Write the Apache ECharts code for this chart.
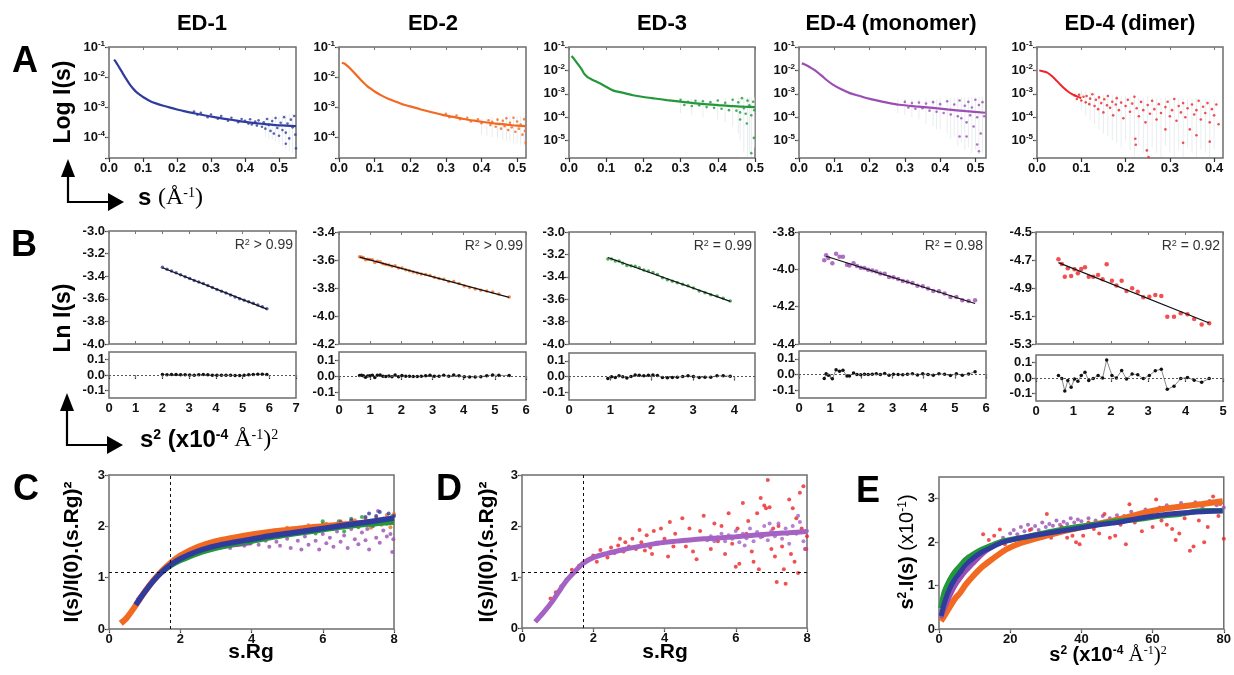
<!DOCTYPE html>
<html><head><meta charset="utf-8">
<script src="https://cdn.jsdelivr.net/npm/echarts@6/dist/echarts.min.js"></script>
<style>html,body{margin:0;padding:0;background:#fff}#c{width:1234px;height:675px}</style>
</head><body><div id="c"></div><script>
// ---------- DATA ----------
const titles = ['ED-1','ED-2','ED-3','ED-4 (monomer)','ED-4 (dimer)'];
const colBlue='#2f3c9e', colOrange='#f26a22', colGreen='#22983a', colPurple='#9b4db3', colPurpleD='#a362c4', colRed='#ee2428';

// Panel A: log I(s) vs s  ([s, I])
const aCurve1=[[0.015,3.8e-2],[0.02,3.2e-2],[0.03,2.1e-2],[0.04,1.35e-2],[0.05,8.8e-3],[0.06,5.9e-3],[0.07,4.2e-3],[0.08,3.2e-3],[0.09,2.6e-3],[0.10,2.15e-3],[0.12,1.6e-3],[0.14,1.3e-3],[0.16,1.1e-3],[0.18,9.5e-4],[0.20,8.3e-4],[0.22,7.3e-4],[0.25,6.2e-4],[0.28,5.3e-4],[0.31,4.6e-4],[0.34,4.0e-4],[0.37,3.6e-4],[0.40,3.2e-4],[0.43,2.9e-4],[0.46,2.7e-4],[0.49,2.5e-4],[0.52,2.4e-4],[0.55,2.3e-4]];
const aTail1=[[0.25,7.0e-4],[0.26,5.5e-4],[0.27,6.4e-4],[0.29,4.6e-4],[0.30,5.6e-4],[0.32,4.1e-4],[0.33,5.0e-4],[0.35,3.5e-4],[0.36,4.4e-4],[0.38,3.1e-4],[0.39,4.0e-4],[0.40,3.5e-4],[0.41,2.8e-4],[0.415,3.9e-4],[0.42,2.6e-4],[0.43,3.3e-4],[0.435,2.4e-4],[0.44,3.6e-4],[0.45,2.2e-4],[0.455,3.1e-4],[0.46,1.9e-4],[0.465,4.0e-4],[0.47,2.5e-4],[0.475,1.6e-4],[0.48,3.4e-4],[0.485,1.3e-4],[0.49,4.3e-4],[0.495,2.0e-4],[0.50,1.1e-4],[0.505,3.0e-4],[0.51,1.7e-4],[0.515,4.6e-4],[0.52,1.4e-4],[0.525,2.8e-4],[0.53,9e-5],[0.535,3.8e-4],[0.54,2.1e-4],[0.545,5e-4],[0.548,1.2e-4],[0.55,4.2e-5],[0.52,6e-5]];
const aErr1=[[0.46,1e-4,4.5e-4],[0.47,9e-5,4.8e-4],[0.48,8e-5,5e-4],[0.49,7e-5,5e-4],[0.50,6e-5,5e-4],[0.51,5e-5,5.5e-4],[0.52,4e-5,5.5e-4],[0.53,3.5e-5,6e-4],[0.54,3e-5,6e-4]];
const aCurve2=[[0.008,3.0e-2],[0.015,2.8e-2],[0.02,2.55e-2],[0.03,2.0e-2],[0.04,1.5e-2],[0.05,1.12e-2],[0.06,8.3e-3],[0.07,6.3e-3],[0.08,4.9e-3],[0.09,4.0e-3],[0.10,3.3e-3],[0.12,2.4e-3],[0.14,1.85e-3],[0.16,1.5e-3],[0.18,1.22e-3],[0.20,1.05e-3],[0.23,8.3e-4],[0.26,6.7e-4],[0.29,5.5e-4],[0.32,4.7e-4],[0.35,4.0e-4],[0.38,3.5e-4],[0.41,3.1e-4],[0.44,2.8e-4],[0.47,2.6e-4],[0.50,2.4e-4],[0.525,2.3e-4]];
const aTail2=[[0.30,5.9e-4],[0.31,4.6e-4],[0.33,5.2e-4],[0.34,3.9e-4],[0.36,4.4e-4],[0.37,3.3e-4],[0.39,3.9e-4],[0.40,2.9e-4],[0.42,3.6e-4],[0.425,2.5e-4],[0.43,3.2e-4],[0.44,2.2e-4],[0.445,3.8e-4],[0.45,2.7e-4],[0.455,1.9e-4],[0.46,3.5e-4],[0.465,2.3e-4],[0.47,4.2e-4],[0.475,1.7e-4],[0.48,3.0e-4],[0.485,2.1e-4],[0.49,4.4e-4],[0.495,1.5e-4],[0.50,3.3e-4],[0.505,1.9e-4],[0.51,2.6e-4],[0.515,1.2e-4],[0.52,3.9e-4],[0.522,1.6e-4],[0.524,6.5e-5]];
const aErr2=[[0.40,1.2e-4,4e-4],[0.415,1.1e-4,4.2e-4],[0.43,1e-4,4.5e-4],[0.445,9e-5,4.5e-4],[0.46,8e-5,4.5e-4],[0.47,7.5e-5,5e-4],[0.48,7e-5,5e-4],[0.49,6.5e-5,5e-4],[0.50,6e-5,5e-4],[0.51,5.5e-5,5e-4],[0.52,5e-5,5e-4]];
const aCurve3=[[0.007,4.1e-2],[0.015,2.9e-2],[0.025,1.75e-2],[0.035,1.05e-2],[0.04,7.5e-3],[0.05,5.2e-3],[0.06,4.2e-3],[0.07,3.5e-3],[0.083,2.8e-3],[0.10,2.0e-3],[0.118,1.4e-3],[0.14,1.15e-3],[0.172,8.7e-4],[0.20,7.3e-4],[0.23,6.3e-4],[0.263,5.4e-4],[0.30,4.6e-4],[0.35,3.8e-4],[0.40,3.3e-4],[0.44,2.95e-4],[0.47,2.8e-4],[0.50,2.7e-4]];
const aTail3=[[0.30,5.5e-4],[0.31,3.3e-4],[0.32,4.6e-4],[0.33,3.0e-4],[0.34,5.0e-4],[0.35,3.2e-4],[0.36,4.8e-4],[0.37,2.7e-4],[0.38,4.4e-4],[0.39,2.5e-4],[0.40,5.2e-4],[0.41,2.3e-4],[0.42,4.1e-4],[0.43,2.0e-4],[0.44,5.6e-4],[0.45,1.9e-4],[0.455,4.3e-4],[0.46,1.6e-4],[0.465,6.5e-4],[0.47,2.4e-4],[0.475,1.4e-4],[0.48,5.1e-4],[0.485,3.2e-4],[0.49,1.2e-4],[0.495,4.6e-4],[0.498,2.0e-4],[0.478,5.4e-5],[0.46,8e-5],[0.497,1.3e-5],[0.49,2.9e-6]];
const aErr3=[[0.30,1.5e-4,6e-4],[0.33,1.2e-4,6e-4],[0.36,1e-4,6e-4],[0.40,8e-5,6e-4],[0.42,6e-5,6.5e-4],[0.44,4e-5,6.5e-4],[0.455,2e-5,7e-4],[0.46,1e-5,7e-4],[0.47,3e-6,7e-4],[0.48,2e-6,7e-4],[0.485,3e-6,7e-4],[0.49,2e-6,7e-4],[0.50,5e-6,7e-4]];
const aCurve4=[[0.008,2.0e-2],[0.015,1.85e-2],[0.025,1.55e-2],[0.035,1.25e-2],[0.05,8.9e-3],[0.065,5.8e-3],[0.08,3.7e-3],[0.097,2.4e-3],[0.12,1.55e-3],[0.144,1.07e-3],[0.17,8.2e-4],[0.191,6.6e-4],[0.22,5.2e-4],[0.25,4.2e-4],[0.285,3.4e-4],[0.33,2.9e-4],[0.379,2.5e-4],[0.42,2.15e-4],[0.474,1.8e-4],[0.528,1.55e-4]];
const aTail4=[[0.30,4.5e-4],[0.31,2.6e-4],[0.32,4.0e-4],[0.33,2.3e-4],[0.34,4.2e-4],[0.35,2.4e-4],[0.36,3.8e-4],[0.37,1.9e-4],[0.38,4.4e-4],[0.39,1.7e-4],[0.40,3.6e-4],[0.41,1.5e-4],[0.42,4.8e-4],[0.43,1.3e-4],[0.44,3.5e-4],[0.45,1.1e-4],[0.455,5.2e-4],[0.46,9e-5],[0.47,3.1e-4],[0.475,6e-5],[0.48,4.5e-4],[0.485,1.2e-4],[0.49,2.6e-4],[0.495,4e-5],[0.50,5.6e-4],[0.505,1.0e-4],[0.51,3.3e-4],[0.515,2.0e-5],[0.52,4.4e-4],[0.525,1.1e-4],[0.455,1.5e-5],[0.475,1.5e-5],[0.505,6.8e-6],[0.51,3.5e-6]];
const aErr4=[[0.28,1.5e-4,6e-4],[0.30,1.2e-4,6e-4],[0.32,1e-4,6e-4],[0.34,8e-5,6e-4],[0.36,5e-5,6.5e-4],[0.38,4e-5,6e-4],[0.39,3e-5,6e-4],[0.40,3e-5,6.5e-4],[0.42,2e-5,6.5e-4],[0.43,1.2e-5,6.5e-4],[0.44,1.5e-5,7e-4],[0.45,6e-6,7e-4],[0.46,8e-6,7e-4],[0.47,4e-6,7e-4],[0.48,5e-6,7e-4],[0.49,3e-6,7e-4],[0.50,4e-6,7e-4],[0.51,2.5e-6,7.5e-4],[0.52,3e-6,7.5e-4]];
const aCurve5=[[0.005,1.0e-2],[0.015,9.0e-3],[0.022,8.3e-3],[0.03,6.5e-3],[0.04,4.4e-3],[0.05,2.8e-3],[0.06,1.8e-3],[0.07,1.25e-3],[0.08,9.5e-4],[0.09,7.8e-4],[0.10,6.6e-4]];
const aTail5=[[0.085,8.5e-4],[0.09,6.0e-4],[0.095,9.0e-4],[0.10,5.2e-4],[0.105,7.5e-4],[0.11,4.3e-4],[0.112,8.0e-4],[0.118,3.6e-4],[0.12,6.2e-4],[0.125,9.5e-4],[0.13,3.0e-4],[0.133,5.5e-4],[0.138,2.2e-4],[0.14,7.0e-4],[0.145,4.0e-4],[0.15,1.6e-4],[0.152,5.8e-4],[0.158,3.2e-4],[0.16,8.0e-4],[0.165,2.5e-4],[0.17,4.6e-4],[0.172,1.2e-4],[0.178,3.5e-4],[0.18,6.5e-4],[0.185,2.0e-4],[0.19,4.2e-4],[0.195,9.0e-5],[0.20,3.0e-4],[0.205,5.5e-4],[0.21,1.7e-4],[0.215,3.8e-4],[0.22,7.5e-4],[0.222,1.2e-5],[0.225,2.4e-4],[0.23,1.1e-4],[0.235,4.5e-4],[0.24,2.0e-4],[0.245,6.0e-5],[0.25,3.3e-4],[0.252,2.0e-6],[0.255,1.4e-4],[0.26,5.0e-4],[0.265,2.2e-4],[0.27,8.0e-5],[0.275,3.6e-4],[0.28,1.5e-4],[0.223,6.6e-6],[0.29,2.7e-4],[0.295,4.6e-4],[0.30,1.1e-4],[0.305,2.0e-4],[0.31,6.0e-4],[0.315,7.0e-5],[0.32,3.0e-4],[0.325,1.6e-4],[0.33,4.0e-4],[0.335,1.0e-4],[0.34,2.4e-4],[0.345,3.0e-5],[0.35,3.5e-4],[0.355,1.3e-4],[0.36,2.0e-4],[0.365,5.0e-4],[0.37,8.0e-5],[0.375,2.8e-4],[0.38,1.5e-4],[0.385,4.0e-4],[0.39,6.0e-5],[0.395,2.2e-4],[0.40,1.2e-4],[0.405,3.5e-4],[0.41,5.0e-5],[0.39,9e-6],[0.36,1.7e-5],[0.33,8e-6],[0.29,3.0e-5],[0.248,3.8e-6]];
const aErr5=[[0.10,2e-4,1.5e-3],[0.11,1.2e-4,1.3e-3],[0.12,8e-5,1.2e-3],[0.13,5e-5,1.1e-3],[0.14,3e-5,1.0e-3],[0.15,2e-5,9e-4],[0.16,1.5e-5,1.0e-3],[0.17,1e-5,9e-4],[0.18,8e-6,8.5e-4],[0.19,5e-6,8e-4],[0.20,1e-5,8e-4],[0.21,4e-6,7.5e-4],[0.22,2e-6,9e-4],[0.23,6e-6,7e-4],[0.24,3e-6,7e-4],[0.25,2e-6,8e-4],[0.26,5e-6,7e-4],[0.27,3e-6,6.5e-4],[0.28,2e-6,6.5e-4],[0.29,6e-6,7e-4],[0.30,3e-6,6e-4],[0.31,2e-6,7e-4],[0.32,4e-6,6e-4],[0.33,2e-6,6.5e-4],[0.34,5e-6,6e-4],[0.35,3e-6,6e-4],[0.36,2e-6,6.5e-4],[0.37,4e-6,5.5e-4],[0.38,3e-6,6e-4],[0.39,2e-6,5.5e-4],[0.40,4e-6,6e-4]];

// Panel B: Guinier plots (x = s^2 x1e-4, y = ln I) and residuals
const bX1=[2.00,2.17,2.34,2.51,2.68,2.85,3.02,3.19,3.36,3.53,3.70,3.87,4.04,4.21,4.38,4.55,4.72,4.89,5.06,5.23,5.40,5.57,5.74,5.91];
const bY1=[-3.321,-3.339,-3.354,-3.369,-3.387,-3.404,-3.420,-3.438,-3.451,-3.465,-3.483,-3.501,-3.517,-3.534,-3.549,-3.566,-3.583,-3.599,-3.613,-3.626,-3.639,-3.654,-3.670,-3.687];
const bRes1=[0.004,0.002,0.003,0.004,0.002,0.001,0.0,-0.002,0.001,0.003,0.001,-0.001,-0.001,-0.002,-0.001,-0.002,-0.003,-0.003,-0.002,0.001,0.004,0.005,0.005,0.004];
const bFit1=[[2.0,-3.325],[5.91,-3.691]];
const bX2=[0.66,0.72,0.78,0.85,0.92,0.99,1.07,1.15,1.23,1.32,1.41,1.50,1.60,1.70,1.80,1.91,2.02,2.14,2.26,2.38,2.51,2.64,2.78,2.92,3.06,3.21,3.36,3.52,3.68,3.85,4.02,4.19,4.37,4.55,4.74,4.93,5.13,5.46];
const bY2=[-3.576,-3.579,-3.584,-3.598,-3.595,-3.597,-3.599,-3.618,-3.609,-3.613,-3.626,-3.632,-3.635,-3.645,-3.641,-3.658,-3.658,-3.670,-3.677,-3.685,-3.693,-3.700,-3.704,-3.710,-3.724,-3.733,-3.737,-3.753,-3.754,-3.768,-3.786,-3.797,-3.808,-3.816,-3.822,-3.829,-3.843,-3.864];
const bRes2=[0.003,0.004,0.002,-0.008,0.0,0.002,0.005,-0.01,0.004,0.006,-0.002,-0.003,0.0,-0.004,0.006,-0.004,0.003,-0.002,-0.002,-0.003,-0.003,-0.002,0.002,0.005,-0.001,-0.001,0.004,-0.002,0.006,0.002,-0.005,-0.006,-0.006,-0.004,0.002,0.006,0.004,0.003];
const bFit2=[[0.66,-3.579],[5.46,-3.867]];
const bX3=[0.94,1.03,1.12,1.21,1.30,1.40,1.50,1.60,1.70,1.81,1.92,2.03,2.14,2.26,2.38,2.50,2.62,2.75,2.88,3.01,3.15,3.29,3.43,3.58,3.73,3.90];
const bY3=[-3.240,-3.242,-3.258,-3.260,-3.278,-3.299,-3.302,-3.305,-3.320,-3.339,-3.349,-3.362,-3.380,-3.408,-3.426,-3.440,-3.454,-3.467,-3.480,-3.501,-3.526,-3.542,-3.561,-3.572,-3.592,-3.617];
const bRes3=[-0.012,-0.002,-0.006,0.004,-0.002,-0.01,0.0,0.01,0.008,0.004,0.008,0.01,0.006,-0.006,-0.008,-0.006,-0.004,0.0,0.004,0.0,-0.006,-0.004,-0.004,0.004,0.004,0.002];
const bFit3=[[0.94,-3.228],[3.90,-3.619]];
const bX4=[0.81,0.87,0.94,1.07,1.19,1.30,1.41,1.54,1.62,1.75,1.86,1.98,2.10,2.22,2.35,2.48,2.61,2.75,2.89,3.03,3.18,3.33,3.48,3.64,3.80,3.97,4.14,4.31,4.49,4.67,4.86,5.05,5.24,5.44,5.65];
const bY4=[-3.952,-3.925,-3.939,-3.968,-3.917,-3.933,-3.932,-3.976,-3.980,-3.967,-3.982,-3.991,-3.993,-4.002,-4.006,-4.011,-4.022,-4.024,-4.041,-4.042,-4.052,-4.062,-4.066,-4.073,-4.088,-4.090,-4.103,-4.116,-4.117,-4.130,-4.148,-4.148,-4.166,-4.169,-4.166];
const bRes4=[-0.025,0.005,-0.005,-0.027,0.03,0.02,0.027,-0.01,-0.01,0.01,0.0,-0.002,0.002,0.0,0.002,0.004,0.0,0.006,-0.004,0.002,0.0,-0.002,0.002,0.004,-0.003,0.004,0.0,-0.004,0.005,0.001,-0.007,0.004,-0.004,0.003,0.017];
const bFit4=[[0.87,-3.93],[5.65,-4.183]];
const bX5=[0.60,0.69,0.77,0.85,0.94,1.03,1.12,1.21,1.31,1.41,1.53,1.66,1.78,1.89,2.03,2.15,2.29,2.42,2.57,2.72,2.87,3.03,3.19,3.35,3.51,3.69,3.87,4.05,4.23,4.43,4.63];
const bY5=[-4.695,-4.729,-4.819,-4.759,-4.814,-4.766,-4.795,-4.764,-4.752,-4.819,-4.819,-4.807,-4.838,-4.731,-4.848,-4.883,-4.848,-4.921,-4.902,-4.926,-4.966,-4.962,-4.95,-4.957,-5.105,-5.105,-5.081,-5.088,-5.121,-5.16,-5.152];
const bRes5=[0.017,-0.004,-0.085,-0.017,-0.06,-0.006,-0.021,0.017,0.038,-0.017,-0.004,0.017,0,0.117,0.017,0,0.049,-0.006,0.026,0.021,-0.004,0.017,0.047,0.057,-0.074,-0.053,-0.004,0.004,-0.015,-0.028,-0.004];
const bFit5=[[0.60,-4.719],[4.63,-5.15]];
const r2Labels=['R{s|2} > 0.99','R{s|2} > 0.99','R{s|2} = 0.99','R{s|2} = 0.98','R{s|2} = 0.92'];

// Panel C: dimensionless Kratky ([sRg, value])
const guideX=1.73, guideY=1.104;
const cOrange=[[0.33,0.11],[0.5,0.22],[0.75,0.46],[1.0,0.72],[1.25,0.95],[1.5,1.14],[1.75,1.3],[2.0,1.43],[2.5,1.6],[3.0,1.71],[3.5,1.78],[4.0,1.84],[4.5,1.89],[5.0,1.93],[5.5,1.97],[6.0,2.0],[6.5,2.03],[7.0,2.06],[7.5,2.08],[8.0,2.1]];
const cOrangeDots=[[5.0,1.97],[5.3,1.88],[5.6,2.02],[5.9,1.93],[6.1,2.05],[6.3,1.95],[6.5,2.1],[6.7,1.98],[6.9,2.12],[7.0,2.0],[7.2,2.15],[7.35,1.97],[7.5,2.17],[7.65,2.03],[7.8,2.22],[7.9,1.98],[8.0,2.24],[7.95,2.1],[7.45,2.08],[6.85,2.04]];
const cGreen=[[1.4,1.06],[1.75,1.24],[2.0,1.33],[2.5,1.47],[3.0,1.57],[3.5,1.65],[4.0,1.71],[4.5,1.77],[5.0,1.83],[5.5,1.88],[6.0,1.93],[6.5,1.98],[7.0,2.02],[7.5,2.05],[8.0,2.08]];
const cGreenDots=[[5.5,1.92],[5.8,1.86],[6.0,2.05],[6.2,1.95],[6.45,2.1],[6.6,1.9],[6.8,2.15],[7.0,1.98],[7.2,2.1],[7.4,2.0],[7.6,2.13],[7.8,2.05],[7.95,2.2],[7.1,2.18],[6.0,2.1]];
const cBlue=[[0.75,0.47],[1.0,0.72],[1.25,0.94],[1.5,1.12],[1.75,1.26],[2.0,1.37],[2.5,1.52],[3.0,1.62],[3.5,1.69],[4.0,1.75],[4.5,1.81],[5.0,1.86],[5.5,1.91],[6.0,1.96],[6.5,2.01],[7.0,2.06],[7.5,2.11],[8.0,2.16]];
const cBlueDots=[[6.5,2.08],[6.8,2.12],[7.0,2.05],[7.2,2.18],[7.4,2.1],[7.6,2.28],[7.7,2.15],[7.85,2.25],[8.0,2.2],[7.5,2.2],[7.3,2.25],[7.9,2.12]];
const cPurple=[[0.8,0.55],[1.2,0.9],[1.6,1.18],[2.0,1.35],[2.5,1.49],[3.0,1.58],[3.5,1.64],[4.0,1.68]];
const cPurpleDots=[[3.2,1.6],[3.4,1.58],[3.6,1.66],[3.8,1.62],[4.0,1.68],[4.2,1.64],[4.4,1.72],[4.5,1.6],[4.7,1.7],[4.8,1.62],[5.0,1.76],[5.1,1.58],[5.3,1.72],[5.4,1.55],[5.5,1.8],[5.6,1.64],[5.8,1.72],[5.9,1.55],[6.0,1.85],[6.1,1.67],[6.2,1.78],[6.3,1.6],[6.4,1.9],[6.5,1.7],[6.6,1.82],[6.7,1.58],[6.8,1.95],[6.9,1.75],[7.0,1.65],[7.1,1.88],[7.2,1.73],[7.3,1.55],[7.4,2.0],[7.5,1.78],[7.55,2.3],[7.6,1.68],[7.7,1.92],[7.8,1.8],[7.9,1.85],[7.95,1.5],[7.98,1.75],[7.25,1.95],[6.95,2.05]];

// Panel D
const dPurple=[[0.37,0.12],[0.6,0.3],[0.88,0.55],[1.1,0.78],[1.26,0.94],[1.5,1.12],[1.72,1.27],[2.0,1.38],[2.38,1.46],[2.8,1.53],[3.22,1.59],[3.7,1.65],[4.16,1.69],[4.6,1.72],[5.1,1.75],[5.6,1.77],[6.0,1.79],[6.5,1.82],[7.0,1.85],[7.5,1.87],[8.0,1.89]];
const dPurpleDots=[[5.2,1.72],[5.3,1.8],[5.4,1.7],[5.5,1.78],[5.6,1.85],[5.7,1.7],[5.8,1.82],[5.9,1.75],[6.0,1.9],[6.1,1.68],[6.2,1.85],[6.3,1.76],[6.4,1.95],[6.5,1.7],[6.6,1.88],[6.7,1.78],[6.8,2.0],[6.9,1.72],[7.0,1.9],[7.1,1.8],[7.2,2.05],[7.3,1.75],[7.4,1.95],[7.5,1.65],[7.6,2.0],[7.7,1.85],[7.8,2.08],[7.9,1.7],[8.0,1.9],[7.95,1.55],[7.75,2.2],[6.95,2.05],[6.25,1.62]];
const dRed=[[0.8,0.58],[0.95,0.7],[1.1,0.82],[1.25,0.95],[1.4,1.14],[1.5,1.1],[1.6,1.22],[1.7,1.27],[1.8,1.32],[1.9,1.35],[2.0,1.42],[2.1,1.3],[2.2,1.53],[2.3,1.45],[2.4,1.38],[2.5,1.58],[2.6,1.47],[2.7,1.62],[2.75,1.75],[2.85,1.5],[2.9,1.68],[3.0,1.6],[3.1,1.75],[3.2,1.55],[3.3,1.92],[3.35,1.68],[3.5,1.82],[3.6,1.58],[3.65,1.45],[3.7,1.9],[3.8,1.65],[3.9,1.95],[4.0,1.75],[4.1,1.4],[4.15,2.08],[4.3,1.85],[4.4,1.7],[4.5,2.15],[4.6,1.6],[4.7,1.95],[4.8,1.5],[4.9,1.35],[5.0,1.9],[5.1,2.2],[5.2,1.75],[5.3,1.55],[5.4,2.05],[5.5,1.7],[5.6,2.0],[5.7,1.45],[5.8,2.25],[5.9,1.65],[6.0,1.2],[6.05,1.95],[6.1,1.26],[6.2,2.45],[6.3,1.85],[6.35,2.1],[6.45,1.5],[6.5,1.3],[6.6,2.25],[6.65,1.15],[6.7,2.55],[6.75,1.8],[6.8,2.4],[6.85,2.35],[6.9,2.9],[6.95,2.37],[7.0,1.55],[7.05,1.95],[7.1,1.4],[7.15,0.9],[7.2,2.0],[7.3,1.6],[7.35,1.15],[7.4,0.87],[7.45,1.85],[7.5,2.52],[7.55,1.45],[7.6,2.35],[7.65,1.3],[7.7,2.15],[7.75,1.08],[7.8,2.65],[7.85,1.95],[7.9,2.78],[7.95,1.55],[8.0,1.8],[7.98,1.55],[5.45,1.75],[4.25,1.6],[3.45,1.52]];

// Panel E: Kratky s^2.I(s) vs s^2
const eOrange=[[0.56,0.18],[1.5,0.3],[3.1,0.52],[4.5,0.7],[5.9,0.83],[7.5,1.02],[9.6,1.22],[12,1.42],[14.3,1.57],[17,1.73],[19,1.84],[23,1.98],[28.4,2.11],[33,2.21],[37.7,2.30],[45,2.43],[50,2.52],[56.4,2.65],[62,2.75],[68,2.82],[74,2.88],[79.7,2.94]];
const eGreen=[[0.56,0.48],[1.5,0.85],[3.1,1.14],[4.5,1.32],[5.9,1.45],[7.5,1.6],[9.6,1.72],[12,1.83],[14.3,1.91],[18,2.02],[23.7,2.11],[30,2.22],[37.7,2.34],[45,2.42],[50,2.48],[56.4,2.53],[62,2.6],[68,2.65],[74,2.72],[79.7,2.72]];
const eBlue=[[0.6,0.3],[1.5,0.6],[3.1,0.95],[4.5,1.15],[5.9,1.3],[7.5,1.47],[9.6,1.63],[12,1.77],[14.3,1.86],[18,2.0],[23.7,2.11],[30,2.2],[37.7,2.3],[45,2.4],[50,2.45],[56.4,2.55],[62,2.62],[68,2.67],[74,2.7],[79.7,2.72]];
const ePurple=[[0.56,0.25],[1.5,0.45],[3.1,0.75],[4.5,0.98],[5.9,1.15],[7.5,1.32],[9.6,1.5],[12,1.7],[14.3,1.85],[17,2.0]];
const ePurpleDots=[[18,2.1],[20,2.2],[21,2.28],[22,2.18],[23,2.35],[24,2.25],[25,2.4],[26,2.3],[27,2.37],[28,2.28],[29,2.45],[30,2.35],[31,2.42],[32,2.38],[33,2.5],[34,2.4],[35,2.47],[36,2.42],[37,2.55],[38,2.45],[39,2.52],[40,2.48],[42,2.55],[44,2.5],[46,2.6],[48,2.55],[50,2.62],[52,2.6],[54,2.7],[56,2.65],[58,2.75],[60,2.72],[62,2.8],[64,2.85],[66,2.78],[68,2.9],[70,2.85],[72,2.92],[74,2.8],[76,2.95],[78,2.85],[80,2.8]];
const eRed=[[12.4,2.18],[14,2.05],[15.5,2.15],[17.1,2.29],[18.5,1.95],[19.9,1.87],[21,2.05],[22.5,2.1],[24,2.0],[25.5,2.28],[27,2.15],[29,2.1],[30.3,2.65],[31.5,2.1],[33,2.2],[34.5,2.35],[36,2.1],[37.5,2.15],[38.5,2.0],[39.5,1.95],[40.5,2.15],[42,2.45],[43.5,2.3],[45,2.2],[46.5,2.65],[48,2.1],[49.5,2.15],[51,2.4],[52.5,1.95],[53.5,2.87],[55,2.45],[57,2.25],[58.5,2.6],[60,2.35],[61,2.98],[62.5,2.5],[64,2.4],[65.5,2.3],[66.5,2.05],[67.5,2.2],[69,2.55],[70.5,1.8],[71.5,1.9],[73,2.5],[74.5,2.0],[75.5,2.35],[77,3.05],[78.5,2.6],[80,2.08],[79,2.88]];

// ---------- BUILD ----------
const FONT="'Liberation Sans', Arial, Helvetica, sans-serif";
const SERIF="'Liberation Serif', 'Times New Roman', serif";
const grid=[], xAxis=[], yAxis=[], series=[], graphic=[];
const f0=v=>String(Math.round(v)), f1=v=>v.toFixed(1);
const logFmt=v=>{const e=Math.log10(v), r=Math.round(e); if(Math.abs(e-r)>1e-6) return ''; return '10{s|'+r+'}';};
const supRich={s:{fontSize:8,fontWeight:'bold',fontFamily:FONT,color:'#111',verticalAlign:'top',lineHeight:9}};
function axisDef(gi,dim,o,mirror){
  const isLog=o.type==='log';
  const a={gridIndex:gi,type:o.type||'value',min:o.min,max:o.max,
    position: mirror?(dim==='x'?'top':'right'):(dim==='x'?'bottom':'left'),
    splitLine:{show:false},axisLine:{show:false},
    axisTick:(mirror||o.inner)?{show:true,inside:true,length:3,lineStyle:{color:'#777',width:1}}:{show:true,length:4,lineStyle:{color:'#333',width:1.2}},
    axisLabel:(mirror||o.labels===false)?{show:false}:{show:true,fontFamily:FONT,fontWeight:'bold',fontSize:13,color:'#111',margin:4,formatter:o.fmt,rich:isLog?supRich:undefined,lineHeight:isLog?15:13,hideOverlap:false}
  };
  if(isLog){a.logBase=10;}
  if(o.ticks){a.axisTick.customValues=o.ticks; if(a.axisLabel.show) a.axisLabel.customValues=o.ticks;}
  return a;
}
function addPanel(r,xo,yo){
  const gi=grid.length;
  grid.push({left:r[0],top:r[1],width:r[2],height:r[3],show:true,borderColor:'#6e6e6e',borderWidth:1.5,backgroundColor:'#fff'});
  const xi=xAxis.length; xAxis.push(axisDef(gi,'x',xo,false),axisDef(gi,'x',xo,true));
  const yi=yAxis.length; yAxis.push(axisDef(gi,'y',yo,false),axisDef(gi,'y',yo,true));
  return {xi,yi};
}
function S(p,type,data,extra){series.push(Object.assign({type,xAxisIndex:p.xi,yAxisIndex:p.yi,data,animation:false,silent:true},extra));}
function line(p,data,color,w,extra){S(p,'line',data,Object.assign({symbol:'none',smooth:0.3,lineStyle:{color,width:w},itemStyle:{color}},extra||{}));}
function dots(p,data,color,size,extra){S(p,'scatter',data,Object.assign({symbol:'circle',symbolSize:size,itemStyle:{color}},extra||{}));}
function errBars(p,data){S(p,'custom',data,{clip:true,renderItem:(params,api)=>{const a=api.coord([api.value(0),api.value(1)]), b=api.coord([api.value(0),api.value(2)]);
  return {type:'line',shape:{x1:a[0],y1:a[1],x2:b[0],y2:b[1]},style:{stroke:'#e9edf0',lineWidth:1}};},encode:{x:0,y:[1,2]},z:1});}
const zip=(xs,ys)=>xs.map((x,i)=>[x,ys[i]]);

// Panel A
const aRects=[[109,47,187,111],[339,47,187,111],[569,47,186,111],[799,47,187,111],[1037,47,186,111]];
const aXmax=[0.55,0.525,0.5,0.53,0.42];
const aYmin=[2e-5,2e-5,1.8e-6,1.8e-6,1.8e-6];
const aTicks=[[0,0.1,0.2,0.3,0.4,0.5],[0,0.1,0.2,0.3,0.4,0.5],[0,0.1,0.2,0.3,0.4,0.5],[0,0.1,0.2,0.3,0.4,0.5],[0,0.1,0.2,0.3,0.4]];
const aCurves=[aCurve1,aCurve2,aCurve3,aCurve4,aCurve5];
const aTails=[aTail1,aTail2,aTail3,aTail4,aTail5];
const aErrs=[aErr1,aErr2,aErr3,aErr4,aErr5];
const aCols=[colBlue,colOrange,colGreen,colPurple,colRed];
aRects.forEach((r,i)=>{
  const p=addPanel(r,{min:0,max:aXmax[i],ticks:aTicks[i],fmt:f1},{type:'log',min:aYmin[i],max:0.1,fmt:logFmt});
  errBars(p,aErrs[i]);
  line(p,aCurves[i],aCols[i],i===4?2:2.2);
  dots(p,aTails[i],aCols[i],2.6);
});

// Panel B
const bUp=[[109,231,187,113],[339,232,187,112],[569,232,186,112],[799,232,187,112],[1036,232,187,112]];
const bLo=[[109,352,187,46],[339,352,187,48],[569,353,186,47],[799,351,187,47],[1036,355,187,46]];
const bXmax=[7,6,4.5,6,5];
const bXt=[[0,1,2,3,4,5,6,7],[0,1,2,3,4,5,6],[0,1,2,3,4],[0,1,2,3,4,5,6],[0,1,2,3,4,5]];
const bYr=[[-4,-3],[-4.2,-3.4],[-4,-3],[-4.4,-3.8],[-5.3,-4.5]];
const bYt=[[-4,-3.8,-3.6,-3.4,-3.2,-3.0],[-4.2,-4.0,-3.8,-3.6,-3.4],[-4,-3.8,-3.6,-3.4,-3.2,-3.0],[-4.4,-4.2,-4.0,-3.8],[-5.3,-5.1,-4.9,-4.7,-4.5]];
const bXs=[bX1,bX2,bX3,bX4,bX5], bYs=[bY1,bY2,bY3,bY4,bY5], bRs=[bRes1,bRes2,bRes3,bRes4,bRes5], bFs=[bFit1,bFit2,bFit3,bFit4,bFit5];
const bCols=[colBlue,colOrange,colGreen,colPurple,colRed];
for(let i=0;i<5;i++){
  const up=addPanel(bUp[i],{min:0,max:bXmax[i],ticks:bXt[i],labels:false,inner:true},{min:bYr[i][0],max:bYr[i][1],ticks:bYt[i],fmt:f1});
  dots(up,zip(bXs[i],bYs[i]),bCols[i],i>=3?4.5:3.5);
  line(up,bFs[i],'#111',1.2,{smooth:false});
  const lo=addPanel(bLo[i],{min:0,max:bXmax[i],ticks:bXt[i],fmt:f0},{min:-0.15,max:0.15,ticks:[-0.1,0,0.1],fmt:f1});
  S(lo,'line',zip(bXs[i],bRs[i]),{symbol:'circle',symbolSize:3.5,itemStyle:{color:'#111'},lineStyle:{color:'#888',width:1},
    markLine:{silent:true,symbol:'none',label:{show:false},lineStyle:{color:'#555',type:[2,2],width:1},data:[{yAxis:0}]}});
  graphic.push({type:'text',x:bUp[i][0]+bUp[i][2]-3,y:bUp[i][1]+14,z:100,style:{text:r2Labels[i],fontFamily:FONT,fontSize:14,fill:'#333',align:'right',verticalAlign:'middle',rich:{s:{fontSize:9,fontFamily:FONT,fill:'#333',verticalAlign:'top',lineHeight:10}}}});
}

// Panel C, D, E
const ml={silent:true,symbol:'none',label:{show:false},lineStyle:{color:'#111',type:[3,3],width:1},data:[{xAxis:guideX},{yAxis:guideY}]};
const pC=addPanel([109,475,285,154],{min:0,max:8,ticks:[0,2,4,6,8],fmt:f0},{min:0,max:3,ticks:[0,1,2,3],fmt:f0});
line(pC,cPurple,colPurple,5,{markLine:ml});
dots(pC,cPurpleDots,colPurple,4);
line(pC,cOrange,colOrange,6);
line(pC,cGreen,colGreen,5);
dots(pC,cGreenDots,colGreen,4);
dots(pC,cOrangeDots,colOrange,4);
line(pC,cBlue,colBlue,5.5);
dots(pC,cBlueDots,colBlue,4);

const pD=addPanel([522,475,285,153],{min:0,max:8,ticks:[0,2,4,6,8],fmt:f0},{min:0,max:3,ticks:[0,1,2,3],fmt:f0});
line(pD,dPurple,colPurpleD,5,{markLine:ml});
dots(pD,dRed,colRed,4);
dots(pD,dPurpleDots,colPurpleD,4);

const pE=addPanel([939,477,285,152],{min:0,max:80,ticks:[0,20,40,60,80],fmt:f0},{min:0,max:3.5,ticks:[0,1,2,3],fmt:f0});
line(pE,eOrange,colOrange,6);
line(pE,eGreen,colGreen,5.5);
line(pE,ePurple,colPurple,4);
line(pE,eBlue,colBlue,5);
dots(pE,ePurpleDots,colPurple,4);
dots(pE,eRed,colRed,4);

// ---------- TEXT / GRAPHICS ----------
function T(x,y,text,size,opt){opt=opt||{};graphic.push({type:'text',x,y,rotation:opt.rot||0,z:100,style:{text,fontFamily:opt.font||FONT,fontWeight:opt.weight||'bold',fontSize:size,fill:'#000',align:'center',verticalAlign:'middle',rich:opt.rich}});}
const titleX=[202,433,662,891,1130];
titles.forEach((t,i)=>T(titleX[i],24,t,22));
T(25,62,'A',36); T(24,246,'B',36); T(26,490,'C',36); T(449,490,'D',36); T(868,492,'E',36);
T(64,102,'Log I(s)',23,{rot:Math.PI/2});
T(64,318,'Ln I(s)',23,{rot:Math.PI/2});
const rS={b:{fontFamily:FONT,fontWeight:'bold',fontSize:24,fill:'#000'},p:{fontFamily:SERIF,fontWeight:'normal',fontSize:24,fill:'#000'},
  sb:{fontFamily:FONT,fontWeight:'bold',fontSize:14,fill:'#000',verticalAlign:'top',lineHeight:14},sp:{fontFamily:SERIF,fontSize:14,fill:'#000',verticalAlign:'top',lineHeight:14},
  n:{fontFamily:FONT,fontWeight:'normal',fontSize:20,fill:'#000'},b20:{fontFamily:FONT,fontWeight:'bold',fontSize:20,fill:'#000'},sn:{fontFamily:FONT,fontSize:12,fill:'#000',verticalAlign:'top',lineHeight:12},sb20:{fontFamily:FONT,fontWeight:'bold',fontSize:12,fill:'#000',verticalAlign:'top',lineHeight:12}};
graphic.push({type:'text',x:138,y:198,z:100,style:{text:'{b|s }{p|(Å}{sp|-1}{p|)}',rich:rS,align:'left',verticalAlign:'middle'}});
graphic.push({type:'text',x:140,y:440,z:100,style:{text:'{b|s}{sb|2}{b| (x10}{sb|-4}{p| Å}{sp|-1}{p|)}{sp|2}',rich:rS,align:'left',verticalAlign:'middle'}});
T(72,552,'I(s)/I(0).(s.Rg)\u00b2',21,{rot:Math.PI/2});
T(487,552,'I(s)/I(0).(s.Rg)\u00b2',21,{rot:Math.PI/2});
T(251,652,'s.Rg',21); T(665,652,'s.Rg',21);
graphic.push({type:'text',x:907,y:552,rotation:Math.PI/2,z:100,style:{text:'{b20|s}{sb20|2}{b20|.I(s) }{n|(x10}{sn|-1}{n|)}',rich:rS,align:'center',verticalAlign:'middle'}});
graphic.push({type:'text',x:1108,y:655,z:100,style:{text:'{b20|s}{sb20|2}{b20| (x10}{sb20|-4}{p| Å}{sp|-1}{p|)}{sp|2}',rich:Object.assign({},rS,{p:{fontFamily:SERIF,fontSize:21,fill:'#000'},sp:{fontFamily:SERIF,fontSize:12,fill:'#000',verticalAlign:'top',lineHeight:12}}),align:'center',verticalAlign:'middle'}});
// arrows
function arrow(vx,vTop,hY,hEnd){
  graphic.push({type:'polyline',z:100,shape:{points:[[vx,vTop+16],[vx,hY],[hEnd-14,hY]]},style:{stroke:'#000',lineWidth:2.2,fill:null}});
  graphic.push({type:'polygon',z:100,shape:{points:[[vx,vTop],[vx-7,vTop+18],[vx+7,vTop+18]]},style:{fill:'#000'}});
  graphic.push({type:'polygon',z:100,shape:{points:[[hEnd,hY],[hEnd-16,hY-9],[hEnd-16,hY+9]]},style:{fill:'#000'}});
}
arrow(68,159,202,124);
arrow(67,393,445,123);

const chart=echarts.init(document.getElementById('c'),null,{renderer:'canvas'});
chart.setOption({animation:false,backgroundColor:'#fff',grid,xAxis,yAxis,series,graphic});
</script></body></html>
